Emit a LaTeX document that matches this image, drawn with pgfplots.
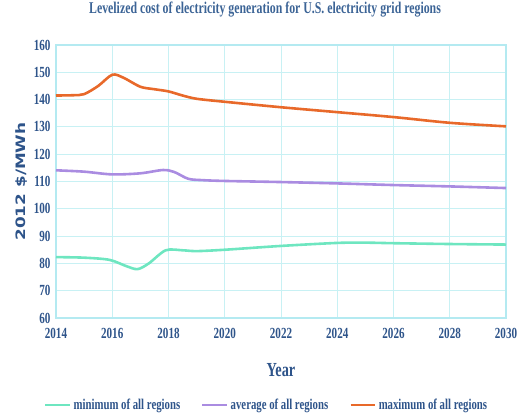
\documentclass[border=0pt]{standalone}
\usepackage{fontspec}
\setmainfont{Liberation Serif}[FakeStretch=0.72]
\newfontfamily\ysans{DejaVu Sans}[FakeStretch=1.3]
\usepackage{pgfplots}
\pgfplotsset{compat=1.18}

\definecolor{txtblue}{RGB}{46,84,138}
\definecolor{titleblue}{RGB}{60,100,150}
\definecolor{gridc}{RGB}{200,241,244}
\definecolor{framec}{RGB}{180,234,241}
\definecolor{cmin}{RGB}{110,230,192}
\definecolor{cavg}{RGB}{170,140,225}
\definecolor{cmax}{RGB}{232,105,42}

\begin{document}
\begin{tikzpicture}
\path[use as bounding box] (-56bp,-101bp) rectangle (462bp,318bp);
\begin{axis}[
    scale only axis,
    width=450bp, height=273bp,
    xmin=2014, xmax=2030, ymin=60, ymax=160,
    xtick={2014,2016,...,2030},
    ytick={60,70,...,160},
    /pgf/number format/assume math mode=true,
    xticklabel={\pgfmathprintnumber[1000 sep={}]{\tick}},
    tick style={draw=none},
    grid=major,
    major grid style={gridc, line width=1bp},
    axis line style={framec, line width=1.2bp},
    ticklabel style={font=\fontsize{15.5}{16}\selectfont\bfseries, text=txtblue},
    xticklabel style={yshift=-7bp},
    yticklabel style={xshift=-2bp},
    title={Levelized cost of electricity generation for U.S. electricity grid regions},
    title style={font=\fontsize{16.5}{18}\selectfont\bfseries, text=titleblue, at={(0.5,1)}, anchor=center, yshift=29bp, xshift=-16bp},
    xlabel={Year},
    xlabel style={font=\fontsize{20}{22}\selectfont\bfseries, text=txtblue, at={(0.5,0)}, anchor=center, yshift=-52bp},
    ylabel={2012 \$/MWh},
    ylabel style={font=\ysans\bfseries\fontsize{13}{14}\selectfont, text=txtblue, at={(0,0.5)}, anchor=center, yshift=34bp},
    legend columns=3,
    legend style={draw=none, fill=none, at={(0.468,0)}, anchor=center, yshift=-87bp,
        font=\fontsize{15}{16}\selectfont\bfseries, text=txtblue,
        /tikz/every even column/.append style={column sep=19bp}},
    legend image code/.code={\draw[#1] (0cm,0cm) -- (0.88cm,0cm);},
    every axis plot/.append style={line width=2.6bp, smooth, tension=0.5},
]
\addplot[cmin] coordinates {
    (2014,82.3) (2015,82.1) (2015.9,81.3) (2016.5,79) (2016.9,77.9) (2017.3,80)
    (2017.9,84.8) (2018.5,84.8) (2019,84.5) (2020,85) (2022,86.4) (2024,87.5)
    (2025,87.6) (2026,87.4) (2028,87.1) (2030,86.9)
};
\addplot[cavg] coordinates {
    (2014,114.1) (2015,113.6) (2016,112.6) (2017,113) (2017.8,114.2) (2018.2,113.5)
    (2018.7,111) (2019.2,110.5) (2020,110.2) (2022,109.8) (2024,109.3) (2026,108.7)
    (2028,108.2) (2030,107.6)
};
\addplot[cmax] coordinates {
    (2014,141.5) (2014.6,141.6) (2015,142) (2015.5,145) (2016,149.1) (2016.4,148)
    (2017,144.7) (2017.5,143.8) (2018,143) (2018.5,141.5) (2019,140.3) (2020,139.2)
    (2022,137.2) (2024,135.4) (2026,133.6) (2028,131.5) (2030,130.2)
};
\legend{minimum of all regions, average of all regions, maximum of all regions}
\end{axis}
\end{tikzpicture}
\end{document}
